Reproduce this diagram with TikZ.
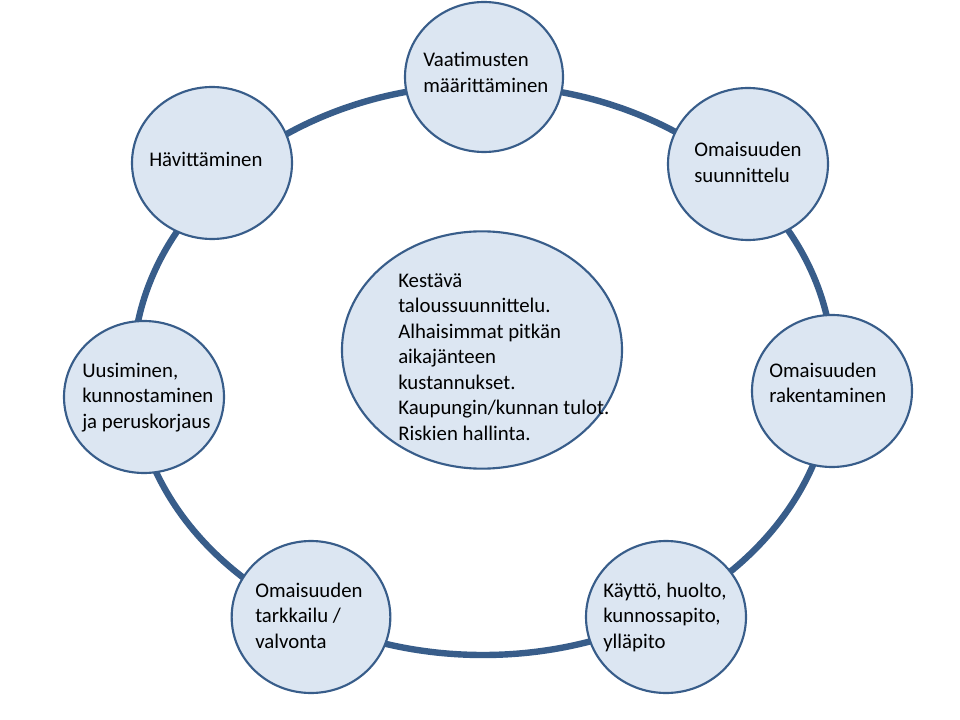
\documentclass[tikz,border=0pt]{standalone}
\usepackage{fontspec}
\setmainfont{Carlito}
\usetikzlibrary{shapes.geometric}
\definecolor{ringblue}{RGB}{56,93,138}
\definecolor{fillblue}{RGB}{220,230,242}
\newcommand\cfont{\fontsize{15.6}{19.2}\selectfont}
\tikzset{
  ringline/.style={draw=ringblue, line width=4.8pt},
  stage/.style={ellipse, draw=ringblue, fill=fillblue, line width=1.6pt, inner sep=0pt},
  txt/.style={anchor=base west, inner sep=0pt, font=\cfont, text=black}
}
\begin{document}
\begin{tikzpicture}[x=0.75pt, y=-0.75pt]
\useasboundingbox (0,0) rectangle (960,720);
\draw[ringline] (483,370) ellipse [x radius=262.5pt, y radius=213.75pt];
\node[stage, minimum width=118.5pt, minimum height=112.5pt] (req) at (484,77) {};
\node[stage, minimum width=120pt, minimum height=114pt] (plan) at (748,164) {};
\node[stage, minimum width=120pt, minimum height=114pt] (disp) at (212,163) {};
\node[stage, minimum width=120pt, minimum height=114pt] (build) at (832,391) {};
\node[stage, minimum width=120pt, minimum height=114pt] (renew) at (144,397) {};
\node[stage, minimum width=120pt, minimum height=114pt] (use) at (666,617) {};
\node[stage, minimum width=119pt, minimum height=114pt] (mon) at (311,617) {};
\node[stage, minimum width=210pt, minimum height=178pt] (core) at (482,350) {};
\node[txt] (treq) at (423,67) {\begin{tabular}[t]{@{}l@{}}Vaatimusten\\määrittäminen\end{tabular}};
\node[txt] (tplan) at (694,157) {\begin{tabular}[t]{@{}l@{}}Omaisuuden\\suunnittelu\end{tabular}};
\node[txt] (tdisp) at (149,167) {Hävittäminen};
\node[txt] (tbuild) at (769,377) {\begin{tabular}[t]{@{}l@{}}Omaisuuden\\rakentaminen\end{tabular}};
\node[txt] (trenew) at (82,377) {\begin{tabular}[t]{@{}l@{}}Uusiminen,\\kunnostaminen\\ja peruskorjaus\end{tabular}};
\node[txt] (tuse) at (603,597) {\begin{tabular}[t]{@{}l@{}}Käyttö, huolto,\\kunnossapito,\\ylläpito\end{tabular}};
\node[txt] (tmon) at (255,597) {\begin{tabular}[t]{@{}l@{}}Omaisuuden\\tarkkailu /\\valvonta\end{tabular}};
\node[txt] (tcore) at (398,287) {\begin{tabular}[t]{@{}l@{}}Kestävä\\taloussuunnittelu.\\Alhaisimmat pitkän\\aikajänteen\\kustannukset.\\Kaupungin/kunnan tulot.\\Riskien hallinta.\end{tabular}};
\end{tikzpicture}
\end{document}
